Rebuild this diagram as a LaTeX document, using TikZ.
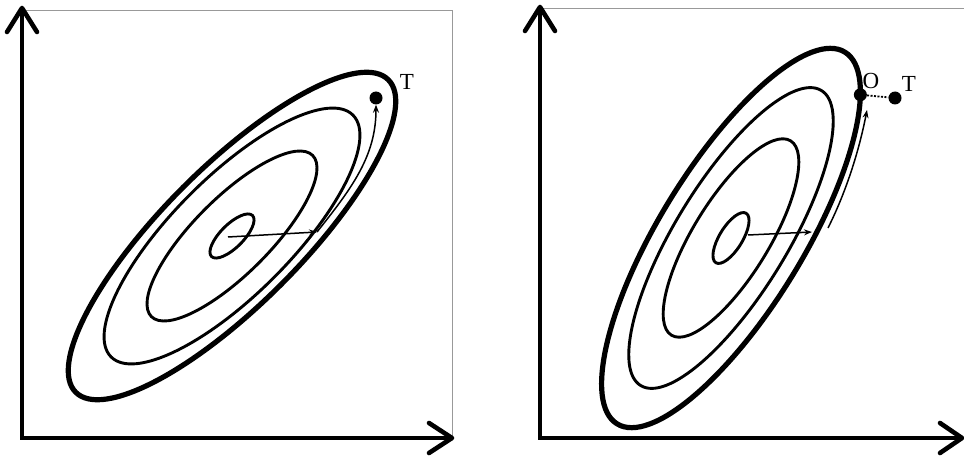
\documentclass[tikz,border=0pt]{standalone}
\usepackage{fontspec}
\setmainfont{Liberation Serif}
\usetikzlibrary{arrows.meta,positioning}
\tikzset{
  asse/.style={line width=4.6pt},
  punta/.style={line width=4.6pt, line cap=round, line join=round},
  cornice/.style={gray!80, line width=0.9pt},
  esterna/.style={line width=5.2pt},
  livello/.style={line width=2.9pt},
  traiett/.style={line width=1.5pt, -{Stealth[length=8pt,width=6pt]}},
  punto/.style={circle, fill=black, inner sep=0pt, minimum size=13pt},
  etich/.style={font=\fontsize{23}{25}\selectfont, inner sep=0pt}
}

\begin{document}
\begin{tikzpicture}[x=1pt,y=1pt]
\useasboundingbox (0,0) rectangle (964,456);
% pannello sinistro
\coordinate (yL) at (22,448);
\coordinate (xL) at (452,18);
\draw[cornice] (22,446) -- (452,446) -- (xL);
\draw[asse] (yL) |- (xL);
\draw[punta] (7,424) -- (yL) -- (37,424);
\draw[punta] (429,33) -- (xL) -- (429,3);
\begin{scope}[shift={(232,220)}, rotate=45]
  \draw[esterna] (0,0) ellipse [x radius=221, y radius=69];
  \foreach \a/\b in {171/59,114/38,29/11.5}
    \draw[livello] (0,0) ellipse [x radius=\a, y radius=\b];
\end{scope}
\coordinate (cL) at (228,219);
\coordinate (gL) at (317,224);
\node[punto] (tL) at (376,358) {};
\draw[traiett] (cL) -- (gL);
\draw[traiett] (gL) .. controls (352,268) and (376,300) .. (tL.south);
\node[etich] (labTL) at (407,374) {T};
% pannello destro
\coordinate (yR) at (540,449);
\coordinate (xR) at (962,18);
\draw[cornice] (540,448) -- (964,448);
\draw[asse] (yR) |- (xR);
\draw[punta] (525,425) -- (yR) -- (555,425);
\draw[punta] (940,33) -- (xR) -- (940,3);
\begin{scope}[shift={(731,218)}, rotate=58.5]
  \draw[esterna] (0,0) ellipse [x radius=218, y radius=72];
  \foreach \a/\b in {173/56,114/38,29/11.5}
    \draw[livello] (0,0) ellipse [x radius=\a, y radius=\b];
  \node[punto] (oR) at (-29.5:218 and 72) {};
\end{scope}
\node[punto] (tR) at (895,358) {};
\draw[line width=1.8pt, dash pattern=on 2pt off 1.5pt] (oR) -- (tR);
\coordinate (cR) at (748,221);
\coordinate (gR) at (812,224);
\coordinate (hR) at (828,228);
\coordinate (fR) at (867,346);
\draw[traiett] (cR) -- (gR);
\draw[traiett] (hR) .. controls (848,268) and (860,310) .. (fR);
\node[etich] (labO) at (871,375) {O};
\node[etich] (labTR) at (909,372) {T};
\end{tikzpicture}
\end{document}
